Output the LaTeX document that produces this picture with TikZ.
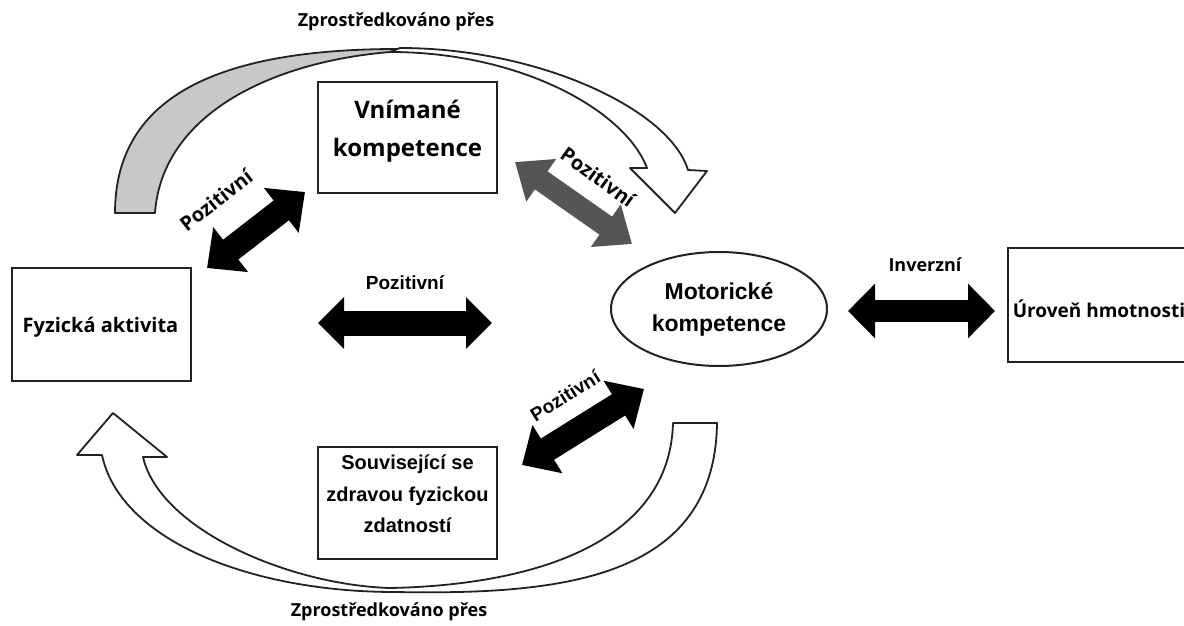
\documentclass[tikz,border=0pt]{standalone}
\usepackage{fontspec}
\setmainfont{Open Sans}
\newfontfamily\osans{Open Sans}
\newfontfamily\arialf{Liberation Sans}
\usetikzlibrary{arrows.meta,shapes.geometric}
\definecolor{ribbongray}{HTML}{C8C8C8}
\definecolor{arrowgray}{HTML}{555555}
\definecolor{edge}{HTML}{222222}
\tikzset{
  box/.style={draw=edge, line width=2pt, fill=white, rectangle, inner sep=0pt},
  oval/.style={draw=edge, line width=2pt, fill=white, ellipse, inner sep=0pt, minimum width=216pt, minimum height=114pt},
  ostext/.style n args={2}{font=\osans\bfseries\fontsize{#1}{#2}\selectfont, align=center, inner sep=0pt},
  artext/.style n args={2}{font=\arialf\bfseries\fontsize{#1}{#2}\selectfont, align=center, inner sep=0pt},
  ribbon/.style={draw=edge, line width=1.8pt, line join=round},
  fatarrow/.style n args={4}{draw=#1, line width=#2,
    {Triangle[length=#4, width=#3]}-{Triangle[length=#4, width=#3]}},
}
\begin{document}
\begin{tikzpicture}[x=1pt,y=-1pt]
\clip (0,0) rectangle (1184,626);
\fill[white] (0,0) rectangle (1184,626);

% curved ribbons
\filldraw[ribbon, fill=ribbongray] (115,213) .. controls (115,85) and (240,48) .. (405,49)
  -- (390,52) .. controls (270,62) and (162,115) .. (155,213) -- cycle;
\filldraw[ribbon, fill=white] (390,52) .. controls (520,52) and (625,110) .. (647,168)
  -- (630,168) -- (675,213) -- (707,171) -- (688,170)
  .. controls (670,110) and (540,48) .. (400,48) -- cycle;
\filldraw[ribbon, fill=white] (673,423) -- (717,423)
  .. controls (715,580) and (560,595) .. (395,592)
  .. controls (250,592) and (120,540) .. (102,455)
  -- (77,455) -- (113,413) -- (167,457) -- (143,457)
  .. controls (160,530) and (290,585) .. (390,588)
  .. controls (540,585) and (670,540) .. (673,423) -- cycle;

% boxes
\node[box, minimum width=179pt, minimum height=111pt] (vk) at (407.5,137.5) {};
\node[ostext={24}{38}] (vkt) at (407.5,131) {Vnímané\\kompetence};
\node[box, minimum width=179pt, minimum height=113pt] (fa) at (101.5,324.5) {};
\node[ostext={20}{24}] (fat) at (100.5,327) {Fyzická aktivita};
\node[box, minimum width=179pt, minimum height=112pt] (sz) at (407.5,503) {};
\node[artext={20}{31.5}] (szt) at (407.5,494) {Související se\\zdravou fyzickou\\zdatností};
\node[oval] (mk) at (719,309) {};
\node[artext={23}{32}] (mkt) at (719,309) {Motorické\\kompetence};
\node[box, minimum width=178pt, minimum height=114pt] (uh) at (1097,305) {};
\node[ostext={19}{24}] (uht) at (1099,309) {Úroveň hmotnosti};

% arrow end points
\coordinate (a1s) at (207,268); \coordinate (a1e) at (305,192);
\coordinate (a2s) at (515,162); \coordinate (a2e) at (632,244);
\coordinate (a3s) at (522,465); \coordinate (a3e) at (644,389);
\coordinate (a4s) at (318,323); \coordinate (a4e) at (492,323);
\coordinate (a5s) at (848,311); \coordinate (a5e) at (995,311);

\draw[fatarrow={black}{25pt}{55pt}{30pt}] (a1s) -- (a1e);
\draw[fatarrow={arrowgray}{22pt}{50pt}{32pt}] (a2s) -- (a2e);
\draw[fatarrow={black}{25pt}{55pt}{30pt}] (a3s) -- (a3e);
\draw[fatarrow={black}{25pt}{50pt}{26pt}] (a4s) -- (a4e);
\draw[fatarrow={black}{22pt}{53pt}{27pt}] (a5s) -- (a5e);

% labels
\node[ostext={18}{20}] (ztop) at (396,22) {Zprostředkováno přes};
\node[ostext={18}{20}] (zbot) at (389,612) {Zprostředkováno přes};
\node[ostext={18}{20}] (inv) at (925,265) {Inverzní};
\node[artext={19}{20}] (p4) at (405,283) {Pozitivní};
\node[ostext={20}{22}, rotate=38] (p1) at (216,200) {Pozitivní};
\node[ostext={20}{22}, rotate=-36] (p2) at (598,177) {Pozitivní};
\node[artext={19}{20}, rotate=32] (p3) at (565,396) {Pozitivní};
\end{tikzpicture}
\end{document}
